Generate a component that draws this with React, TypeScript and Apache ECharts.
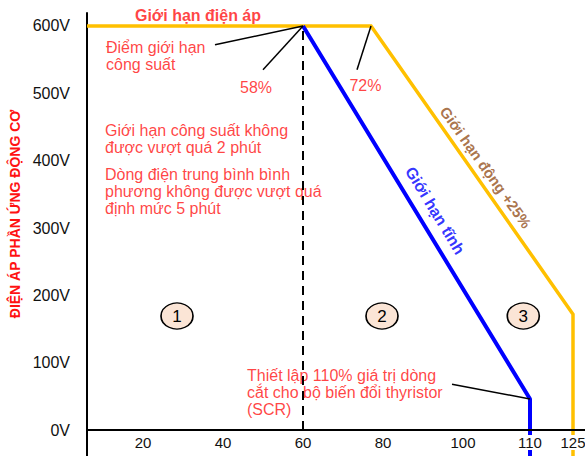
import React, { useEffect, useRef } from "react";
import * as echarts from "echarts";

// ---- data (real units: x = % of rated current, y = armature voltage V) ----
const xTickValues = [20, 40, 60, 80, 100, 110, 125];
const yTickValues = [0, 100, 200, 300, 400, 500, 600];

// non-linear x scale of the original diagram (real value -> axis position)
const xBreakReal = [0, 100, 110, 125, 140];
const xBreakAxis = [0, 100, 116.75, 127.5, 142.5];

const X_MIN = 6;
const X_MAX = 130.5;
const Y_MIN = -38.6;
const Y_MAX = 619.3;

const staticLimitX = [60, 110, 110];
const staticLimitY = [600, 46, Y_MIN];

const dynamicLimitX = [X_MIN, 77, 125, 125];
const dynamicLimitY = [600, 600, 172, Y_MIN];

const powerLineX = [60, 60];
const powerLineY = [0, 600];

const leaders = [
  { x: [38, 60], y: [572, 600] },
  { x: [50, 60], y: [535, 600] },
  { x: [73.5, 77], y: [535, 600] },
  { x: [97.25, 110], y: [68, 46] },
];

const RED = "#FF1212";
const FONT = "'Liberation Sans', Arial, sans-serif";

const notes = [
  { text: "Giới hạn điện áp", x: 33.75, y: 616, align: "center", bold: true, color: RED, size: 16, rotate: 0 },
  { text: "Điểm giới hạn\ncông suất", x: 10.75, y: 555.5, align: "left", bold: false, color: RED, size: 16, rotate: 0 },
  { text: "58%", x: 48.25, y: 509.4, align: "center", bold: false, color: RED, size: 16, rotate: 0 },
  { text: "72%", x: 75.6, y: 511, align: "center", bold: false, color: RED, size: 16, rotate: 0 },
  { text: "Giới hạn công suất không\nđược vượt quá 2 phút", x: 10.5, y: 432.2, align: "left", bold: false, color: RED, size: 16, rotate: 0 },
  { text: "Dòng điện trung bình bình\nphương không được vượt quá\nđịnh mức 5 phút", x: 10.5, y: 353.5, align: "left", bold: false, color: RED, size: 16, rotate: 0 },
  { text: "Thiết lập 110% giá trị dòng\ncắt cho bộ biến đổi thyristor\n(SCR)", x: 46, y: 56.4, align: "left", bold: false, color: RED, size: 16, rotate: 0 },
  { text: "Giới hạn tĩnh", x: 93, y: 326, align: "center", bold: true, color: "#0000FF", size: 16, rotate: -58.7 },
  { text: "Giới hạn động +25%", x: 103.4, y: 390, align: "center", bold: true, color: "#94501C", size: 15, rotate: -54.5 },
];

const regionLabels = ["1", "2", "3"];
const regionX = [28.5, 79.75, 109];
const regionY = [169.3, 169.3, 169.3];

function fx(v: number): number {
  for (let i = 0; i < xBreakReal.length - 1; i++) {
    const a = xBreakReal[i];
    const b = xBreakReal[i + 1];
    if (v <= b || i === xBreakReal.length - 2) {
      const t = (v - a) / (b - a);
      return xBreakAxis[i] + t * (xBreakAxis[i + 1] - xBreakAxis[i]);
    }
  }
  return v;
}

function pts(xs: number[], ys: number[]) {
  return xs.map((x, i) => [x === X_MIN ? X_MIN : fx(x), ys[i]]);
}

const GRID_TOP = 13;
const GRID_BOTTOM = 0;
const CHART_H = 456;

export default function App() {
  const ref = useRef<HTMLDivElement>(null);

  useEffect(() => {
    if (!ref.current) return;
    const chart = echarts.init(ref.current, undefined, { renderer: "svg" });

    const tickAxis = xTickValues.map(fx);
    const gridH = CHART_H - GRID_TOP - GRID_BOTTOM;
    // x axis sits on y = 0, which lies above the grid bottom
    const zeroOffset = (gridH * (0 - Y_MIN)) / (Y_MAX - Y_MIN);

    const leaderSeries = leaders.map((l) => ({
      type: "line",
      data: pts(l.x, l.y),
      symbol: "none",
      silent: true,
      lineStyle: { color: "#000", width: 1.5 },
      z: 5,
    }));

    const option: any = {
      animation: false,
      backgroundColor: "#fff",
      textStyle: { fontFamily: FONT },
      grid: {
        left: 87,
        right: 0,
        top: GRID_TOP,
        bottom: GRID_BOTTOM,
        containLabel: false,
        outerBoundsMode: "none",
      },
      xAxis: {
        type: "value",
        min: X_MIN,
        max: X_MAX,
        z: 6,
        offset: -zeroOffset,
        splitLine: { show: false },
        axisTick: { show: false },
        axisLine: { show: true, onZero: false, lineStyle: { color: "#000", width: 2 } },
        axisLabel: {
          customValues: tickAxis,
          margin: 5,
          color: "#111",
          fontSize: 15,
          fontFamily: FONT,
          backgroundColor: "#fff",
          padding: [0, 1],
          formatter: (val: number) => {
            const i = tickAxis.findIndex((t) => Math.abs(t - val) < 1e-6);
            return i >= 0 ? String(xTickValues[i]) : "";
          },
        },
      },
      yAxis: {
        type: "value",
        min: Y_MIN,
        max: Y_MAX,
        splitLine: { show: false },
        axisTick: { show: false },
        axisLine: { show: true, onZero: false, lineStyle: { color: "#000", width: 2 } },
        axisLabel: {
          customValues: yTickValues,
          margin: 17,
          color: "#111",
          fontSize: 16,
          fontFamily: FONT,
          formatter: (v: number) => `${Math.round(v)}V`,
        },
      },
      series: [
        {
          type: "line",
          data: pts(dynamicLimitX, dynamicLimitY),
          symbol: "none",
          silent: true,
          lineStyle: { color: "#FFC000", width: 3.5, join: "miter" },
          z: 2,
        },
        {
          type: "line",
          data: pts(staticLimitX, staticLimitY),
          symbol: "none",
          silent: true,
          lineStyle: { color: "#0000FF", width: 4 },
          z: 3,
        },
        {
          type: "line",
          data: pts(powerLineX, powerLineY),
          symbol: "none",
          silent: true,
          lineStyle: { color: "#000", width: 2, type: [9, 6] },
          z: 7,
        },
        ...leaderSeries,
        {
          type: "scatter",
          silent: true,
          symbolSize: 0,
          z: 4,
          data: notes.map((n) => ({
            value: [fx(n.x), n.y],
            name: n.text,
            label: {
              show: true,
              position: "inside",
              formatter: n.text,
              align: n.align,
              verticalAlign: "middle",
              color: n.color,
              fontSize: n.size,
              fontWeight: n.bold ? "bold" : "normal",
              fontFamily: FONT,
              lineHeight: 17,
              rotate: n.rotate,
            },
          })),
        },
        {
          type: "scatter",
          silent: true,
          symbol: "circle",
          symbolSize: [32, 26],
          z: 8,
          itemStyle: { color: "#FBE5D6", borderColor: "#000", borderWidth: 1.5, opacity: 1 },
          label: {
            show: true,
            position: "inside",
            color: "#000",
            fontSize: 17,
            fontFamily: FONT,
            formatter: (p: any) => p.name,
          },
          data: regionLabels.map((t, i) => ({ name: t, value: [fx(regionX[i]), regionY[i]] })),
        },
      ],
      graphic: [
        {
          type: "text",
          x: 15,
          y: 214,
          rotation: Math.PI / 2,
          silent: true,
          style: {
            text: "ĐIỆN ÁP PHẦN ỨNG ĐỘNG CƠ",
            fill: RED,
            font: `bold 14px ${FONT}`,
            align: "center",
            verticalAlign: "middle",
          },
        },
      ],
    };

    chart.setOption(option);
    return () => chart.dispose();
  }, []);

  return (
    <div
      ref={ref}
      style={{ position: "fixed", left: 0, top: 0, width: 585, height: 456, background: "#fff" }}
    />
  );
}
